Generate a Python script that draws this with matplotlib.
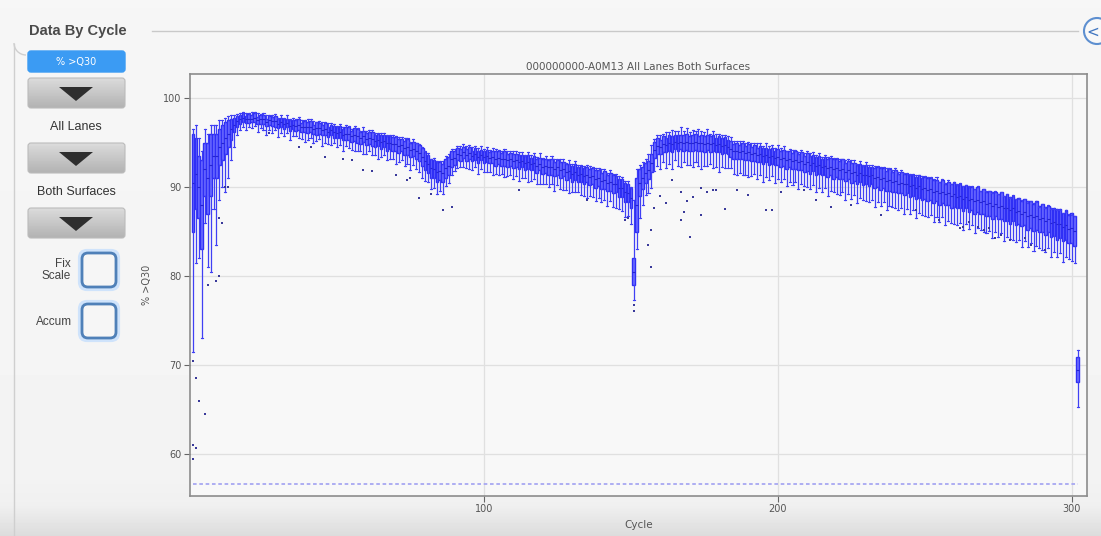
import numpy as np
import matplotlib
matplotlib.use("Agg")
import matplotlib.pyplot as plt
from matplotlib.patches import FancyBboxPatch, Polygon, Circle, Arc

# ---------------- data ----------------
title = "000000000-A0M13 All Lanes Both Surfaces"
x_label = "Cycle"
y_label = "% >Q30"
x_ticks = [100, 200, 300]
y_ticks = [60, 70, 80, 90, 100]

med = [
    90.5, 91.5, 90.0, 88.0, 92.0, 91.0, 92.5, 93.5, 93.5, 94.5,
    95.0, 95.5, 96.0, 96.5, 97.0, 97.4, 97.6, 97.8, 97.6, 97.7,
    97.7, 97.8, 97.5, 97.6, 97.6, 97.3, 97.5, 97.4, 97.4, 97.1,
    97.3, 97.1, 97.2, 96.9, 97.0, 96.9, 97.0, 96.7, 96.8, 96.7,
    96.8, 96.5, 96.6, 96.6, 96.4, 96.5, 96.2, 96.4, 96.2, 96.1,
    96.2, 95.9, 96.0, 96.0, 95.7, 95.9, 95.7, 95.5, 95.7, 95.4,
    95.5, 95.4, 95.2, 95.3, 95.1, 95.2, 94.9, 95.0, 94.8, 94.8,
    94.6, 94.7, 94.4, 94.5, 94.2, 94.3, 94.0, 93.8, 93.4, 92.9,
    92.6, 92.1, 92.0, 91.7, 91.8, 91.6, 92.1, 92.4, 93.1, 93.3,
    93.7, 93.6, 93.9, 93.6, 93.8, 93.5, 93.7, 93.4, 93.6, 93.4,
    93.5, 93.3, 93.4, 93.2, 93.3, 93.1, 93.2, 93.0, 93.1, 92.9,
    93.0, 92.8, 92.9, 92.7, 92.8, 92.6, 92.7, 92.4, 92.6, 92.3,
    92.4, 92.2, 92.3, 92.0, 92.2, 91.9, 92.0, 91.7, 91.8, 91.5,
    91.7, 91.4, 91.5, 91.2, 91.4, 91.1, 91.2, 90.9, 91.0, 90.7,
    90.8, 90.5, 90.6, 90.3, 90.3, 89.9, 89.9, 89.4, 89.3, 88.8,
    80.5, 88.0, 90.5, 91.0, 91.6, 91.9, 92.7, 94.2, 94.6, 94.5,
    94.8, 94.7, 94.9, 94.8, 95.1, 94.9, 95.1, 95.0, 95.1, 94.9,
    95.0, 95.1, 94.9, 95.0, 94.8, 95.0, 94.8, 94.9, 94.7, 94.8,
    94.6, 94.7, 94.5, 94.3, 94.0, 94.1, 93.9, 94.0, 93.8, 93.9,
    93.7, 93.8, 93.6, 93.7, 93.5, 93.6, 93.4, 93.5, 93.3, 93.4,
    93.2, 93.3, 93.0, 93.1, 92.9, 93.0, 92.8, 92.9, 92.6, 92.8,
    92.5, 92.7, 92.4, 92.5, 92.3, 92.4, 92.1, 92.3, 92.0, 92.1,
    91.9, 92.0, 91.7, 91.9, 91.6, 91.7, 91.4, 91.6, 91.3, 91.4,
    91.2, 91.3, 91.0, 91.1, 90.9, 91.0, 90.7, 90.8, 90.6, 90.7,
    90.4, 90.5, 90.3, 90.4, 90.1, 90.2, 89.9, 90.1, 89.8, 89.9,
    89.7, 89.8, 89.5, 89.6, 89.3, 89.5, 89.2, 89.3, 89.0, 89.2,
    88.9, 89.0, 88.7, 88.9, 88.6, 88.7, 88.4, 88.6, 88.3, 88.4,
    88.1, 88.2, 87.9, 88.1, 87.8, 87.9, 87.6, 87.7, 87.4, 87.6,
    87.2, 87.3, 87.0, 87.2, 86.8, 86.9, 86.6, 86.8, 86.4, 86.5,
    86.2, 86.4, 86.0, 86.1, 85.8, 85.9, 85.5, 85.7, 85.3, 85.4,
    85.1, 69.5,
]

# half height of the box (median to quartile)
box_half = [
    5.5, 4.0, 3.5, 5.0, 3.0, 4.0, 3.5, 2.5, 2.5, 2.0,
    2.0, 1.8, 1.5, 1.2, 0.8, 0.6, 0.5, 0.5, 0.4, 0.5,
    0.4, 0.5, 0.4, 0.5, 0.5, 0.4, 0.5, 0.5, 0.6, 0.5,
    0.5, 0.6, 0.5, 0.6, 0.5, 0.6, 0.6, 0.5, 0.6, 0.6,
    0.6, 0.5, 0.7, 0.6, 0.6, 0.7, 0.6, 0.6, 0.7, 0.6,
    0.7, 0.6, 0.7, 0.7, 0.6, 0.7, 0.8, 0.7, 0.6, 0.7,
    0.7, 0.8, 0.7, 0.7, 0.8, 0.7, 0.8, 0.7, 0.8, 0.8,
    0.8, 0.7, 0.8, 0.9, 0.8, 0.8, 0.9, 0.9, 1.0, 1.0,
    1.0, 1.1, 1.0, 1.1, 1.0, 1.0, 1.1, 1.0, 0.9, 0.8,
    0.7, 0.7, 0.6, 0.7, 0.7, 0.6, 0.7, 0.7, 0.6, 0.7,
    0.7, 0.6, 0.7, 0.8, 0.7, 0.7, 0.8, 0.7, 0.7, 0.8,
    0.7, 0.8, 0.7, 0.8, 0.8, 0.7, 0.8, 0.8, 0.7, 0.8,
    0.8, 0.8, 0.9, 0.8, 0.8, 0.9, 0.8, 0.9, 0.8, 0.9,
    0.9, 0.8, 0.9, 0.9, 0.8, 0.9, 0.9, 1.0, 0.9, 0.9,
    1.0, 0.9, 1.0, 1.0, 0.9, 1.0, 1.0, 1.1, 1.0, 1.1,
    1.5, 3.0, 1.5, 1.2, 1.1, 1.0, 1.0, 0.9, 0.9, 0.8,
    0.9, 0.8, 0.9, 0.9, 0.8, 0.9, 0.8, 0.9, 0.9, 0.8,
    0.9, 0.9, 0.8, 0.9, 0.9, 0.8, 0.9, 0.9, 0.8, 0.9,
    0.9, 0.9, 0.8, 0.9, 0.8, 0.9, 0.8, 0.9, 0.8, 0.9,
    0.8, 0.9, 0.8, 0.9, 0.9, 0.8, 0.9, 0.9, 0.8, 0.9,
    0.9, 0.9, 1.0, 0.9, 0.9, 1.0, 0.9, 1.0, 0.9, 1.0,
    1.0, 0.9, 1.0, 1.0, 0.9, 1.0, 1.0, 1.0, 1.1, 1.0,
    1.0, 1.1, 1.0, 1.0, 1.1, 1.0, 1.1, 1.0, 1.1, 1.1,
    1.1, 1.0, 1.1, 1.1, 1.2, 1.1, 1.1, 1.2, 1.1, 1.2,
    1.1, 1.2, 1.2, 1.1, 1.2, 1.2, 1.2, 1.3, 1.2, 1.2,
    1.3, 1.2, 1.3, 1.2, 1.3, 1.3, 1.2, 1.3, 1.3, 1.4,
    1.3, 1.3, 1.4, 1.3, 1.4, 1.3, 1.4, 1.4, 1.3, 1.4,
    1.4, 1.4, 1.5, 1.4, 1.4, 1.5, 1.4, 1.5, 1.5, 1.4,
    1.5, 1.5, 1.4, 1.5, 1.6, 1.5, 1.5, 1.6, 1.5, 1.6,
    1.6, 1.5, 1.6, 1.6, 1.7, 1.6, 1.6, 1.7, 1.6, 1.7,
    1.7, 1.4,
]

# whisker reach below / above the median
whisk_lo = [
    19.0, 10.0, 8.0, 15.0, 6.0, 10.0, 12.0, 6.0, 10.0, 6.0,
    5.0, 6.0, 5.0, 3.5, 2.5, 1.5, 1.2, 1.0, 1.2, 1.0,
    1.1, 0.9, 1.3, 1.0, 1.2, 1.4, 1.1, 1.3, 1.0, 1.5,
    1.2, 1.4, 1.1, 1.6, 1.3, 1.2, 1.5, 1.3, 1.7, 1.4,
    1.3, 1.6, 1.4, 1.2, 1.8, 1.5, 1.4, 1.7, 1.3, 1.6,
    1.5, 1.9, 1.4, 1.6, 1.5, 1.8, 1.6, 1.4, 2.0, 1.7,
    1.5, 1.8, 1.6, 2.1, 1.7, 1.6, 1.9, 1.8, 1.6, 2.2,
    1.8, 1.7, 2.0, 1.9, 2.3, 1.8, 2.0, 2.1, 2.4, 2.2,
    2.0, 2.3, 2.1, 2.5, 2.2, 2.4, 2.0, 1.9, 1.7, 1.5,
    1.6, 1.4, 1.7, 1.5, 1.8, 1.6, 1.5, 1.9, 1.6, 1.7,
    1.8, 1.6, 2.0, 1.7, 1.9, 1.6, 2.1, 1.8, 1.7, 2.0,
    1.8, 2.1, 1.9, 1.7, 2.2, 1.9, 1.8, 2.0, 2.3, 1.9,
    2.0, 2.2, 1.9, 2.4, 2.0, 2.1, 2.3, 2.0, 2.5, 2.1,
    2.2, 2.0, 2.4, 2.2, 2.6, 2.1, 2.3, 2.5, 2.2, 2.4,
    2.3, 2.6, 2.2, 2.5, 2.7, 2.4, 2.6, 2.8, 2.5, 3.0,
    3.2, 5.0, 4.0, 3.0, 2.5, 2.6, 2.8, 2.4, 2.2, 2.5,
    2.0, 2.6, 2.3, 2.8, 2.1, 2.5, 2.9, 2.2, 2.6, 2.4,
    2.7, 2.3, 2.5, 3.0, 2.4, 2.6, 2.2, 2.8, 2.5, 3.1,
    2.3, 2.6, 2.4, 2.2, 2.5, 2.7, 2.3, 2.6, 2.4, 2.8,
    2.5, 2.3, 2.7, 2.4, 2.9, 2.5, 2.6, 2.3, 2.8, 2.5,
    2.6, 2.4, 2.9, 2.5, 2.7, 2.4, 3.0, 2.6, 2.5, 2.8,
    2.7, 2.5, 3.0, 2.6, 2.8, 2.5, 3.1, 2.7, 2.6, 2.9,
    2.8, 2.6, 3.1, 2.7, 2.9, 2.6, 3.2, 2.8, 2.7, 3.0,
    2.9, 2.7, 3.2, 2.8, 3.0, 2.7, 3.3, 2.9, 2.8, 3.1,
    3.0, 2.8, 3.3, 2.9, 3.1, 2.8, 3.4, 3.0, 2.9, 3.2,
    3.1, 2.9, 3.4, 3.0, 3.2, 2.9, 3.5, 3.1, 3.0, 3.3,
    3.2, 3.0, 3.5, 3.1, 3.3, 3.0, 3.6, 3.2, 3.1, 3.4,
    3.3, 3.1, 3.6, 3.2, 3.4, 3.1, 3.7, 3.3, 3.2, 3.5,
    3.4, 3.2, 3.7, 3.3, 3.5, 3.2, 3.8, 3.4, 3.3, 3.6,
    3.5, 3.3, 3.8, 3.4, 3.6, 3.3, 3.9, 3.5, 3.4, 3.7,
    3.6, 4.2,
]

whisk_hi = [
    6.0, 5.5, 5.5, 6.0, 4.5, 5.0, 4.5, 3.5, 3.5, 3.0,
    2.5, 2.3, 2.0, 1.6, 1.1, 0.8, 0.7, 0.6, 0.7, 0.6,
    0.7, 0.6, 0.8, 0.6, 0.7, 0.8, 0.6, 0.7, 0.8, 0.7,
    0.8, 0.7, 0.9, 0.7, 0.8, 0.7, 0.9, 0.8, 0.7, 0.9,
    0.8, 0.9, 0.7, 0.8, 0.9, 0.8, 1.0, 0.8, 0.9, 0.8,
    0.9, 0.8, 1.0, 0.9, 0.8, 1.0, 0.9, 0.8, 1.0, 0.9,
    0.9, 1.0, 0.9, 0.8, 1.0, 0.9, 1.0, 0.9, 1.1, 0.9,
    1.0, 0.9, 1.1, 1.0, 0.9, 1.1, 1.0, 1.0, 1.1, 1.2,
    1.2, 1.1, 1.3, 1.2, 1.1, 1.3, 1.4, 1.3, 1.2, 1.0,
    0.9, 1.0, 0.9, 1.0, 0.9, 1.0, 0.9, 1.0, 1.0, 0.9,
    1.0, 0.9, 1.0, 1.1, 0.9, 1.0, 1.1, 1.0, 0.9, 1.1,
    1.0, 1.1, 1.0, 0.9, 1.1, 1.0, 1.1, 1.0, 1.2, 1.0,
    1.1, 1.0, 1.2, 1.1, 1.0, 1.2, 1.1, 1.0, 1.2, 1.1,
    1.2, 1.1, 1.0, 1.2, 1.1, 1.3, 1.1, 1.2, 1.1, 1.3,
    1.2, 1.1, 1.3, 1.2, 1.2, 1.3, 1.2, 1.3, 1.4, 1.2,
    8.0, 4.0, 2.0, 1.8, 1.6, 1.8, 2.0, 1.2, 1.3, 1.4,
    1.2, 1.5, 1.3, 1.6, 1.2, 1.4, 1.7, 1.3, 1.5, 1.3,
    1.4, 1.2, 1.6, 1.3, 1.4, 1.5, 1.2, 1.4, 1.3, 1.2,
    1.3, 1.1, 1.2, 1.3, 1.2, 1.1, 1.3, 1.2, 1.1, 1.2,
    1.2, 1.1, 1.3, 1.2, 1.1, 1.3, 1.2, 1.2, 1.1, 1.3,
    1.2, 1.3, 1.1, 1.2, 1.3, 1.2, 1.1, 1.3, 1.2, 1.2,
    1.3, 1.2, 1.2, 1.3, 1.1, 1.2, 1.3, 1.2, 1.3, 1.2,
    1.3, 1.2, 1.3, 1.2, 1.4, 1.3, 1.2, 1.3, 1.2, 1.4,
    1.3, 1.2, 1.4, 1.3, 1.3, 1.2, 1.4, 1.3, 1.3, 1.4,
    1.3, 1.4, 1.3, 1.2, 1.4, 1.3, 1.4, 1.3, 1.4, 1.3,
    1.4, 1.3, 1.4, 1.5, 1.3, 1.4, 1.3, 1.5, 1.4, 1.3,
    1.4, 1.5, 1.4, 1.3, 1.5, 1.4, 1.4, 1.5, 1.3, 1.4,
    1.5, 1.4, 1.4, 1.5, 1.4, 1.6, 1.4, 1.5, 1.4, 1.5,
    1.5, 1.4, 1.6, 1.5, 1.4, 1.5, 1.6, 1.5, 1.4, 1.6,
    1.5, 1.6, 1.5, 1.4, 1.6, 1.5, 1.6, 1.5, 1.7, 1.5,
    1.6, 2.2,
]

# outlier points (cycle, value)
outlier_cycles = [1, 1, 1, 2, 2, 3, 5, 6, 9, 10, 10, 11, 12, 13,
                  27, 37, 41, 46, 52, 55, 59, 62, 70, 74, 75, 78, 82, 86, 89,
                  112, 135, 148, 149, 151, 151, 156, 157, 157, 158, 160, 162,
                  164, 167, 167, 168, 169, 170, 171, 174, 174, 176, 178, 179,
                  182, 186, 190, 196, 198, 201, 209, 213, 218, 225, 235, 247,
                  255, 262, 263, 265, 268, 270, 272, 274, 276, 279, 284, 286, 291]
outlier_values = [70.5, 61.0, 59.5, 68.5, 60.7, 66.0, 64.5, 79.0, 79.5, 80.0, 86.5, 86.0, 90.0, 90.0,
                  96.1, 94.5, 94.5, 93.4, 93.2, 93.0, 91.9, 91.8, 91.3, 90.8, 91.0, 88.8, 89.2, 87.4, 87.8,
                  89.7, 88.5, 86.3, 86.5, 76.7, 76.1, 83.5, 85.2, 81.0, 87.7, 89.0, 88.2,
                  90.8, 89.4, 86.3, 87.2, 88.4, 84.4, 88.9, 86.9, 89.9, 89.4, 89.7, 89.7,
                  87.5, 89.7, 89.1, 87.4, 87.4, 89.4, 89.7, 88.5, 87.8, 88.0, 86.9, 87.4,
                  86.3, 85.4, 85.5, 86.1, 85.5, 85.2, 85.4, 84.3, 84.6, 84.0, 84.3, 83.5, 82.9]

baseline_value = 56.6   # faint row at the bottom of the plot
cycles = list(range(1, len(med) + 1))

assert len(med) == len(box_half) == len(whisk_lo) == len(whisk_hi) == 302
assert len(outlier_cycles) == len(outlier_values)

# ---------------- figure ----------------
W, H = 1101, 536
fig = plt.figure(figsize=(W / 100, H / 100), dpi=100)

ui = fig.add_axes([0, 0, 1, 1], zorder=0)
ui.set_xlim(0, W)
ui.set_ylim(H, 0)
ui.axis("off")

# background gradient
g = np.ones((H, 1))
g[:, 0] = np.interp(np.arange(H), [0, 470, 505, H], [0.965, 0.955, 0.94, 0.86])
ui.imshow(g, extent=[0, W, H, 0], aspect="auto", cmap="gray", vmin=0, vmax=1, zorder=0)

# group box
ui.plot([152, 1078], [31, 31], color="#c9c9c9", lw=1.0, zorder=1)
ui.plot([14, 14], [44, H], color="#cfcfcf", lw=1.0, zorder=1)
ui.add_patch(Arc((26, 43), 24, 24, theta1=90, theta2=180, color="#cfcfcf", lw=1.0, zorder=1))
ui.text(29, 31, "Data By Cycle", fontsize=10.5, color="#4a4a4a", va="center", ha="left",
        family="Liberation Sans", fontweight="bold", zorder=2)

# right round button
ui.add_patch(Circle((1097, 31), 13, facecolor="#f8f8f8", edgecolor="#5d8fd0", lw=1.5, zorder=2))
ui.text(1093, 32, "<", fontsize=11, color="#3f75c0", va="center", ha="center", zorder=3)

# blue button
ui.add_patch(FancyBboxPatch((28, 51), 97, 21, boxstyle="round,pad=0,rounding_size=3",
                            facecolor="#3b9bf3", edgecolor="#3b9bf3", zorder=2))
ui.text(76, 61.5, "% >Q30", fontsize=7, color="white", va="center", ha="center", zorder=3)

# gray dropdown buttons
btn_grad = np.linspace(0.86, 0.70, 40).reshape(-1, 1)
for top in (78, 143, 208):
    patch = FancyBboxPatch((28, top), 97, 30, boxstyle="round,pad=0,rounding_size=3",
                           facecolor="none", edgecolor="#bbbbbb", lw=0.8, zorder=3)
    ui.add_patch(patch)
    im = ui.imshow(btn_grad, extent=[28, 125, top + 30, top], aspect="auto", cmap="gray",
                   vmin=0, vmax=1, zorder=2)
    im.set_clip_path(patch)
    ui.add_patch(Polygon([[59, top + 9], [93, top + 9], [76, top + 23]], closed=True,
                         facecolor="#2e2e2e", edgecolor="none", zorder=4))

ui.text(76, 127, "All Lanes", fontsize=9, color="#333333", va="center", ha="center",
        family="Liberation Sans", zorder=3)
ui.text(76, 192, "Both Surfaces", fontsize=9, color="#333333", va="center", ha="center",
        family="Liberation Sans", zorder=3)
ui.text(71, 270, "Fix\nScale", fontsize=8.5, color="#444444", va="center", ha="right",
        multialignment="right", family="Liberation Sans", linespacing=1.1, zorder=3)
ui.text(54, 322, "Accum", fontsize=8.5, color="#444444", va="center", ha="center",
        family="Liberation Sans", zorder=3)

for top in (253, 304):
    ui.add_patch(FancyBboxPatch((80, top - 2), 38, 38, boxstyle="round,pad=0,rounding_size=7",
                                facecolor="none", edgecolor="#cfe3fb", lw=3.0, zorder=2))
    ui.add_patch(FancyBboxPatch((82, top), 34, 34, boxstyle="round,pad=0,rounding_size=6",
                                facecolor="#f6f6f6", edgecolor="#4f80b8", lw=2.0, zorder=3))

# ---------------- chart ----------------
ax_l, ax_r, ax_t, ax_b = 190, 1087, 74, 496
ax = fig.add_axes([ax_l / W, 1 - ax_b / H, (ax_r - ax_l) / W, (ax_b - ax_t) / H], zorder=5)
ax.set_facecolor("#f8f8f8")

stats = []
for c, m, b, wl, wh in zip(cycles, med, box_half, whisk_lo, whisk_hi):
    stats.append(dict(med=m, q1=m - b, q3=m + b, whislo=m - wl, whishi=m + wh, fliers=[]))

ax.bxp(stats, positions=cycles, widths=0.9, patch_artist=True, showfliers=False,
       boxprops=dict(facecolor="#6e6eff", edgecolor="#2f2ff5", linewidth=1.0),
       whiskerprops=dict(color="#4040f4", linewidth=0.9),
       capprops=dict(color="#4040f4", linewidth=0.8),
       medianprops=dict(color="#2424d0", linewidth=0.8),
       capwidths=0.7, manage_ticks=False)

ax.scatter(outlier_cycles, outlier_values, s=2.5, color="#3a3a9a", marker="s",
           linewidths=0, zorder=4)

ax.plot([cycles[0], cycles[-1]], [baseline_value, baseline_value], color="#a8a8f2",
        lw=1.3, dashes=(2, 1.5), zorder=3)

ax.set_xlim(0, 305.2)
ax.set_ylim(55.3, 102.7)
ax.set_xticks(x_ticks)
ax.set_yticks(y_ticks)
ax.grid(True, color="#e0e0e0", lw=0.9, zorder=0)
ax.set_axisbelow(True)
for s in ax.spines.values():
    s.set_color("#8c8c8c")
    s.set_linewidth(1.2)
ax.tick_params(axis="both", labelsize=7, colors="#666666", length=4, width=0.8,
               labelcolor="#555555", pad=2)
ax.set_title(title, fontsize=7.5, color="#555555", pad=3)
ax.set_xlabel(x_label, fontsize=7.5, color="#555555", labelpad=4)
ax.set_ylabel(y_label, fontsize=7, color="#555555", labelpad=8)

fig.savefig("out.png", dpi=100)
